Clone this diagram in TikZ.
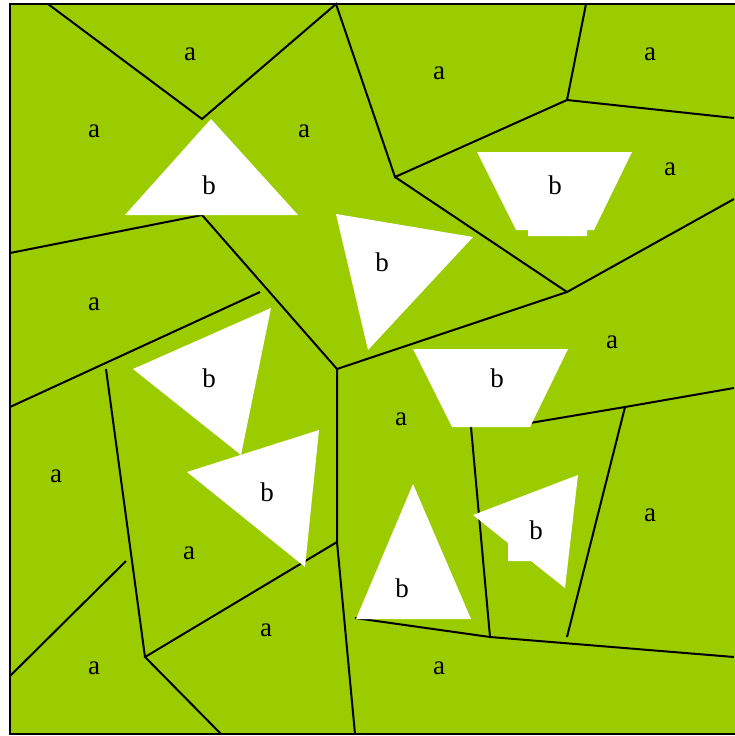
\documentclass[tikz,border=0pt]{standalone}
\usepackage{fontspec}
\setmainfont{Liberation Serif}
\definecolor{leaf}{RGB}{154,204,0}
\begin{document}
\begin{tikzpicture}[x=1pt,y=-1pt,
  edge/.style={black,line width=2pt},
  hole/.style={fill=white,draw=none},
  lab/.style={font=\fontsize{27}{27}\selectfont,inner sep=0pt},
  laba/.style={lab,yshift=-2pt}]
\useasboundingbox (0,0) rectangle (734,736);
\fill[leaf] (10,4) rectangle (740,734);
% junctions
\coordinate (t1) at (48,4);
\coordinate (t2) at (336,4);
\coordinate (t3) at (586,4);
\coordinate (p1) at (202,119);
\coordinate (p2) at (395,177);
\coordinate (p3) at (567,100);
\coordinate (r1) at (734,118);
\coordinate (p4) at (567,292);
\coordinate (r2) at (734,199);
\coordinate (p5) at (337,369);
\coordinate (l1) at (10,253);
\coordinate (p6) at (202,215);
\coordinate (l2) at (10,407);
\coordinate (e1) at (260,292);
\coordinate (e2) at (106,369);
\coordinate (p7) at (145,657);
\coordinate (l3) at (10,676);
\coordinate (e3) at (126,561);
\coordinate (b1) at (221,734);
\coordinate (p8) at (337,542);
\coordinate (b2) at (355,734);
\coordinate (e4) at (355,618);
\coordinate (p9) at (490,637);
\coordinate (r3) at (734,657);
\coordinate (e5) at (471,427);
\coordinate (e6) at (567,637);
\coordinate (p10) at (625,407);
\coordinate (e7) at (530,423);
\coordinate (r4) at (734,388);
% edges
\draw[edge] (t1) -- (p1) -- (t2) -- (p2) -- (p3) -- (t3);
\draw[edge] (p3) -- (r1);
\draw[edge] (p2) -- (p4) -- (r2);
\draw[edge] (p4) -- (p5);
\draw[edge] (l1) -- (p6) -- (p5);
\draw[edge] (l2) -- (e1);
\draw[edge] (e2) -- (p7) -- (b1);
\draw[edge] (l3) -- (e3);
\draw[edge] (p7) -- (p8);
\draw[edge] (p5) -- (p8) -- (b2);
\draw[edge] (e4) -- (p9) -- (r3);
\draw[edge] (p9) -- (e5);
\draw[edge] (e6) -- (p10);
\draw[edge] (e7) -- (p10) -- (r4);
% white shapes
\fill[hole] (125,215) -- (211,119) -- (298,215) -- cycle;
\fill[hole] (336,214) -- (473,237) -- (368,350) -- cycle;
\fill[hole] (477,152) -- (632,152) -- (594,230) -- (587,230) -- (587,236) -- (528,236) -- (528,230) -- (516,230) -- cycle;
\fill[hole] (133,369) -- (271,308) -- (241,455) -- cycle;
\fill[hole] (187,472) -- (319,430) -- (305,567) -- cycle;
\fill[hole] (413,349) -- (568,349) -- (530,427) -- (452,427) -- cycle;
\fill[hole] (413,484) -- (471,619) -- (356,619) -- cycle;
\fill[hole] (473,515) -- (578,475) -- (565,588) -- (531,561) -- (508,561) -- (508,543) -- cycle;
% frame
\draw[black,line width=2pt] (740,4) -- (10,4) -- (10,734) -- (740,734);
% labels
\foreach \p in {(190,52),(94,129),(304,129),(439,71),(650,52),(670,167),(94,302),(612,340),(401,417),(56,474),(650,513),(189,551),(266,628),(94,666),(439,666)}
  \node[laba] at \p {a};
\foreach \p in {(209,185),(555,185),(382,262),(209,378),(497,378),(267,492),(536,530),(402,588)}
  \node[lab] at \p {b};
\end{tikzpicture}
\end{document}
